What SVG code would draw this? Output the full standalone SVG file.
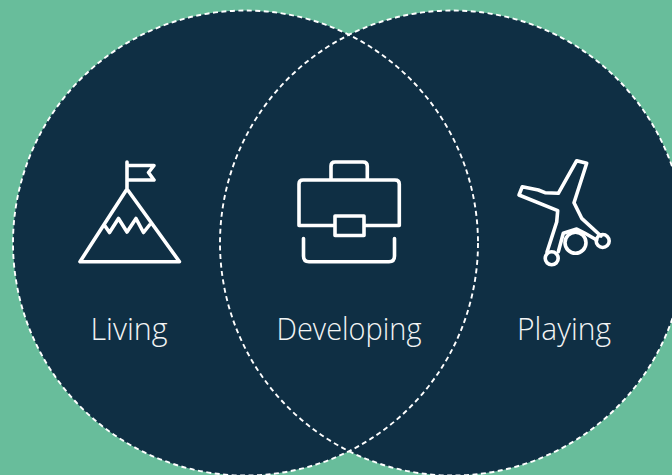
<svg xmlns="http://www.w3.org/2000/svg" width="672" height="475" viewBox="0 0 672 475">
<style>
.c{fill:#0f2f44}
.d{fill:none;stroke:#fff;stroke-width:1.900;stroke-dasharray:5 3.500}
.i{fill:none;stroke:#fff;stroke-width:3.600;stroke-linecap:round;stroke-linejoin:round}
.t{fill:#f2f4f4;font-family:"Open Sans","Liberation Sans",sans-serif;font-weight:300;font-size:31px;text-anchor:middle}
</style>
<rect width="672" height="475" fill="#68bd9b"/>
<g id="circles">
<circle class="c" cx="245.500" cy="243" r="232.500"/>
<circle class="c" cx="452.500" cy="243" r="232.500"/>
</g>
<g id="connectors">
<circle class="d" cx="245.500" cy="243" r="232.500"/>
<circle class="d" cx="452.500" cy="243" r="232.500"/>
</g>
<g id="living">
<path class="i" d="M127 162V188M127 165.500H154L148.500 172.500L154 180H127M127 189L80 261.700H179.500ZM105 226L109.500 232.500L118.500 218.500L127 232L136 218.500L143.500 232.500L149.500 225"/>
<text class="t" x="129" y="340" textLength="77" lengthAdjust="spacingAndGlyphs">Living</text>
</g>
<g id="developing">
<path class="i" d="M331 180V166Q331 162 335 162H363Q367.300 162 367.300 166V180M303 180H395Q399.300 180 399.300 184V225.500H364M335 225.500H299V184Q299 180 303 180M335 216H364V235.500H335ZM303.500 238.500V256Q303.500 261.700 309 261.700H389Q394.500 261.700 394.500 256V238.500"/>
<text class="t" x="349" y="340" textLength="145" lengthAdjust="spacingAndGlyphs">Developing</text>
</g>
<g id="playing">
<path class="i" d="M547 252L556.700 222L557.700 210.700L519 195L522.300 186.700L538.300 190L545 192.700L558.300 193.300L576.700 160.700L586.700 163.300L574 202.700L581.700 218.300L601 236M596.700 240L585 233.300L576.700 229L563.300 233.300L558.300 251.700"/>
<circle class="i" cx="575.500" cy="242.700" r="10.500"/>
<circle class="i" cx="551.700" cy="258.300" r="6.500"/>
<circle class="i" cx="602.700" cy="241" r="6.500"/>
<text class="t" x="564" y="340" textLength="94" lengthAdjust="spacingAndGlyphs">Playing</text>
</g>
</svg>
